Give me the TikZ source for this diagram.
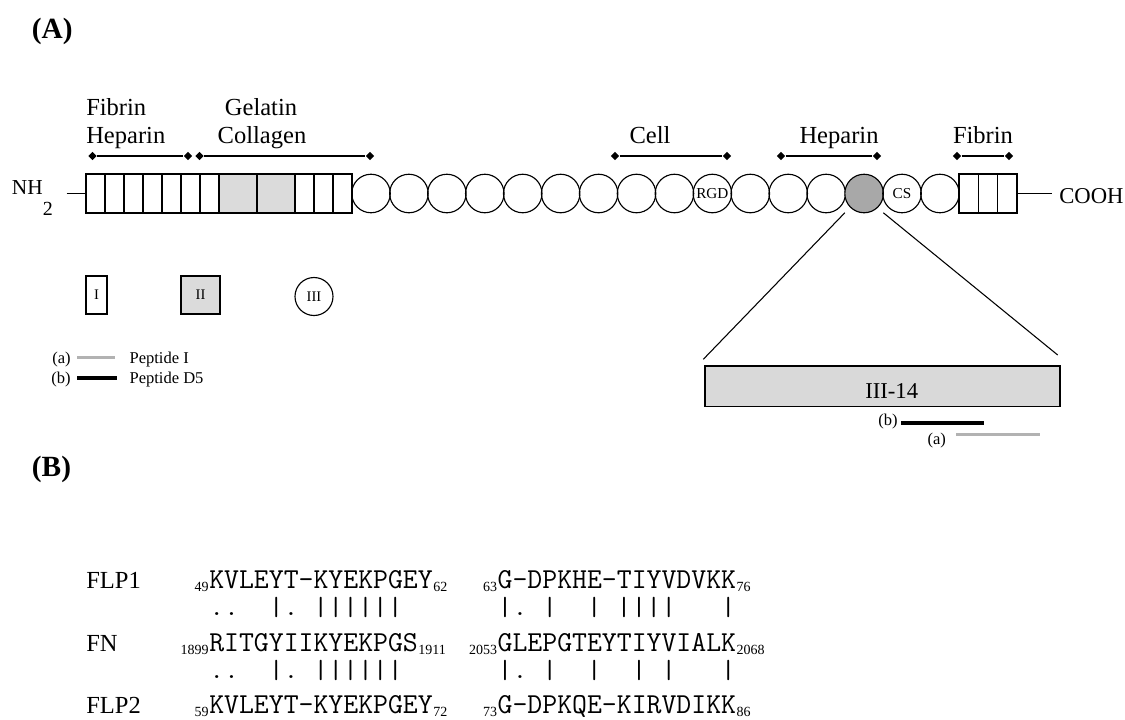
\documentclass[tikz,border=0pt]{standalone}
\usepackage{fontspec}
\setmainfont{Liberation Serif}
\newfontfamily\seqfont[WordSpace={1,0,0}]{Latin Modern Mono}
\newfontfamily\matchfont[FakeStretch=1.1,WordSpace={1,0,0}]{Latin Modern Mono}
\usetikzlibrary{shapes.geometric}
\definecolor{lightfill}{gray}{0.86}
\definecolor{darkfill}{gray}{0.66}
\definecolor{boxfill}{gray}{0.85}
\definecolor{pepgray}{gray}{0.7}
\newcommand\setfs[1]{\fontsize{#1}{#1}\selectfont}
\tikzset{
  cellI/.style={draw, line width=0.85pt, minimum width=14.25pt, minimum height=29.25pt, inner sep=0, outer sep=0},
  cellII/.style={cellI, fill=lightfill, minimum width=28.5pt},
  cellE/.style={cellI, minimum width=14.5pt},
  dom/.style={circle, draw, line width=0.85pt, minimum size=28.9pt, inner sep=0, outer sep=0, font=\setfs{11.4}},
  dia/.style={diamond, fill=black, inner sep=0, minimum size=6.5pt},
  brk/.style={line width=0.8pt},
  lbl/.style={font=\setfs{18.4}, inner sep=0, anchor=base},
  lgd/.style={draw, line width=0.85pt, inner sep=0, font=\setfs{11}},
  small/.style={font=\setfs{12.4}, inner sep=0},
  zoomline/.style={line width=0.8pt},
  seq/.style={font=\seqfont\setfs{21.7}, inner sep=0, anchor=base west},
  sub/.style={font=\setfs{10.5}, inner sep=0},
  match/.style={font=\matchfont\setfs{19.7}, inner sep=0, anchor=base west},
  rowname/.style={font=\setfs{18.4}, inner sep=0, anchor=base west}
}
\begin{document}
\begin{tikzpicture}[x=0.75pt,y=-0.75pt]
\useasboundingbox (0,0) rectangle (1125,719);

% panel labels
\node[font=\bfseries\setfs{22}, anchor=base west, inner sep=0] (pA) at (31.7,38) {(A)};
\node[font=\bfseries\setfs{22}, anchor=base west, inner sep=0] (pB) at (31.7,476) {(B)};

% N-terminal
\node[font=\setfs{16}, anchor=base west, inner sep=0] (nh) at (11.7,194) {NH};
\node[font=\setfs{15}, anchor=base west, inner sep=0] (nhtwo) at (42.7,215) {2};
\coordinate (nhend) at (66.7,193.5);

% type I and II modules
\foreach \i in {1,...,7} \node[cellI] (c\i) at ({76.5+19*\i},193.5) {};
\node[cellII] (c8) at (238,193.5) {};
\node[cellII] (c9) at (276,193.5) {};
\foreach \i in {10,11,12} \node[cellI] (c\i) at ({304.5+19*(\i-10)},193.5) {};
\draw[line width=0.85pt] (nhend) -- (c1.west);

% type III modules
\foreach \k in {1,...,9,11,12,13,16} \node[dom] (r\k) at ({371+37.93*(\k-1)},193.5) {};
\node[dom] (r10) at ({371+37.93*9},193.5) {RGD};
\node[dom, fill=darkfill] (g) at ({371+37.93*13},193.5) {};
\node[dom] (r15) at ({371+37.93*14},193.5) {CS};

% C-terminal type I modules
\foreach \i in {1,2,3} \node[cellE] (e\i) at ({949.3+19.33*\i},193.5) {};
\coordinate (coohend) at (1052,193.5);
\draw[line width=0.85pt] (e3.east) -- (coohend);
\node[font=\setfs{17}, anchor=base west, inner sep=0] (cooh) at (1059,203) {COOH};

% binding-region brackets
\node[dia] (fh1) at (92.5,156) {};
\node[dia] (fh2) at (188,156) {};
\node[dia] (gc1) at (199.5,156) {};
\node[dia] (gc2) at (370,156) {};
\node[dia] (ce1) at (615,156) {};
\node[dia] (ce2) at (727,156) {};
\node[dia] (hp1) at (781,156) {};
\node[dia] (hp2) at (877,156) {};
\node[dia] (fb1) at (957,156) {};
\node[dia] (fb2) at (1009,156) {};
\draw[brk] (fh1) -- (fh2);
\draw[brk] (gc1) -- (gc2);
\draw[brk] (ce1) -- (ce2);
\draw[brk] (hp1) -- (hp2);
\draw[brk] (fb1) -- (fb2);

\node[lbl, anchor=base west] (tfib) at (86,115) {Fibrin};
\node[lbl, anchor=base west] (thep) at (86,143.5) {Heparin};
\node[lbl] (tgel) at (261,115) {Gelatin};
\node[lbl] (tcol) at (262,143.5) {Collagen};
\node[lbl] (tcell) at (650,143.5) {Cell};
\node[lbl] (thep2) at (839,143.5) {Heparin};
\node[lbl] (tfib2) at (983,143.5) {Fibrin};

% legend of module types
\node[lgd, minimum width=15.75pt, minimum height=28.5pt] (tI) at (96.5,295) {I};
\node[lgd, fill=lightfill, minimum width=29.25pt, minimum height=28.5pt] (tII) at (200.5,295) {II};
\node[lgd, circle, minimum size=28.5pt] (tIII) at (314,296.5) {III};

% legend of peptides
\node[small, anchor=base east] (la) at (71,363.2) {(a)};
\coordinate (la1) at (77,357.7);
\coordinate (la2) at (115,357.7);
\draw[pepgray, line width=2.25pt] (la1) -- (la2);
\node[small, anchor=base west] (pa) at (129.3,363.2) {Peptide I};
\node[small, anchor=base east] (lb) at (71,383.8) {(b)};
\coordinate (lb1) at (77,378.3);
\coordinate (lb2) at (117,378.3);
\draw[black, line width=3pt] (lb1) -- (lb2);
\node[small, anchor=base west] (pb) at (129.3,383.8) {Peptide D5};

% III-14 enlargement
\node[draw, fill=boxfill, line width=0.85pt, minimum width=266.25pt, minimum height=30.5pt, inner sep=0] (box) at (882.5,386.3) {};
\node[font=\setfs{17}, inner sep=0, anchor=base] (boxlbl) at (891.7,398.3) {III-14};
\coordinate (zl) at (703.3,359.3);
\coordinate (zr) at (1057.7,355);
\draw[zoomline] (g.west |- g.south) -- (zl);
\draw[zoomline] (g.east |- g.south) -- (zr);

\node[small, anchor=base east] (bb) at (898,425.5) {(b)};
\coordinate (pb1) at (901,423.3);
\coordinate (pb2) at (984,423.3);
\draw[black, line width=3pt] (pb1) -- (pb2);
\coordinate (pa1) at (956,434);
\coordinate (pa2) at (1040,434);
\draw[pepgray, line width=2.25pt] (pa1) -- (pa2);
\node[small, anchor=base] (aa) at (936.7,444) {(a)};

% (B) sequence alignment
\node[rowname] (n1) at (86,588.5) {FLP1};
\node[rowname] (n2) at (86,651) {FN};
\node[rowname] (n3) at (86,713.3) {FLP2};

% block 1
\node[sub, anchor=base east] (p11) at (209,591.5) {49};
\node[seq] (s11) at (209,588.5) {KVLEYT-KYEKPGEY};
\node[sub, anchor=base west, yshift=-2.25pt] (q11) at (s11.base east) {62};
\node[match] (m11) at (209,615) {..~~|.~||||||};
\node[sub, anchor=base east] (p12) at (209,654) {1899};
\node[seq] (s12) at (209,651) {RITGYIIKYEKPGS};
\node[sub, anchor=base west, yshift=-2.25pt] (q12) at (s12.base east) {1911};
\node[match] (m12) at (209,678) {..~~|.~||||||};
\node[sub, anchor=base east] (p13) at (209,716.3) {59};
\node[seq] (s13) at (209,713.3) {KVLEYT-KYEKPGEY};
\node[sub, anchor=base west, yshift=-2.25pt] (q13) at (s13.base east) {72};

% block 2
\node[sub, anchor=base east] (p21) at (497.4,591.5) {63};
\node[seq] (s21) at (497.4,588.5) {G-DPKHE-TIYVDVKK};
\node[sub, anchor=base west, yshift=-2.25pt] (q21) at (s21.base east) {76};
\node[match] (m21) at (497.4,615) {|.~|~~|~||||~~~|};
\node[sub, anchor=base east] (p22) at (497.4,654) {2053};
\node[seq] (s22) at (497.4,651) {GLEPGTEYTIYVIALK};
\node[sub, anchor=base west, yshift=-2.25pt] (q22) at (s22.base east) {2068};
\node[match] (m22) at (497.4,678) {|.~|~~|~~|~|~~~|};
\node[sub, anchor=base east] (p23) at (497.4,716.3) {73};
\node[seq] (s23) at (497.4,713.3) {G-DPKQE-KIRVDIKK};
\node[sub, anchor=base west, yshift=-2.25pt] (q23) at (s23.base east) {86};
\end{tikzpicture}
\end{document}
